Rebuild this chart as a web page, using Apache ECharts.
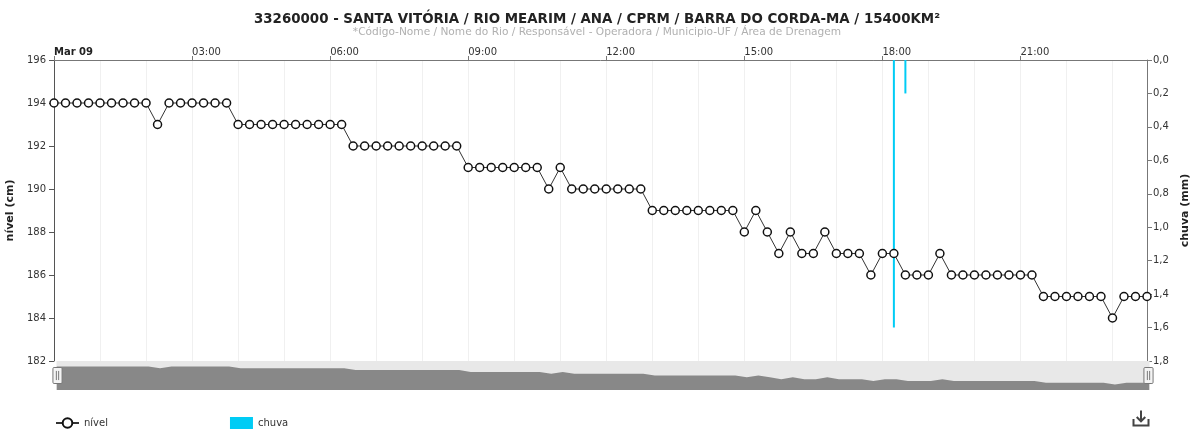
<!DOCTYPE html>
<html>
<head>
<meta charset="utf-8">
<title>33260000 - Santa Vitória</title>
<script src="https://cdn.jsdelivr.net/npm/echarts@6.0.0/dist/echarts.min.js"></script>
<style>
  html, body { margin: 0; padding: 0; background: #fff; }
  #chart { width: 1194px; height: 431px; }
</style>
</head>
<body>
<div id="chart"></div>
<script>
// leituras a cada 15 min, 09/mar 00:00 -> 23:45
var startLabel = 'Mar 09';
var times = [];
for (var h = 0; h < 24; h++) {
  for (var m = 0; m < 60; m += 15) {
    times.push((h < 10 ? '0' : '') + h + ':' + (m < 10 ? '0' : '') + m);
  }
}

// nível (cm)
var nivel = [
  194, 194, 194, 194, 194, 194, 194, 194, 194, 193, 194, 194, 194, 194, 194, 194,
  193, 193, 193, 193, 193, 193, 193, 193, 193, 193, 192, 192, 192, 192, 192, 192,
  192, 192, 192, 192, 191, 191, 191, 191, 191, 191, 191, 190, 191, 190, 190, 190,
  190, 190, 190, 190, 189, 189, 189, 189, 189, 189, 189, 189, 188, 189, 188, 187,
  188, 187, 187, 188, 187, 187, 187, 186, 187, 187, 186, 186, 186, 187, 186, 186,
  186, 186, 186, 186, 186, 186, 185, 185, 185, 185, 185, 185, 184, 185, 185, 185
];

// chuva (mm)
var chuvaHoras = ['18:15', '18:30'];
var chuvaValores = [1.6, 0.2];

var chuva = times.map(function (t) {
  var i = chuvaHoras.indexOf(t);
  return i >= 0 ? chuvaValores[i] : null;
});

var chart = echarts.init(document.getElementById('chart'));
var font = 'DejaVu Sans, Verdana, sans-serif';

var option = {
  animation: false,
  textStyle: { fontFamily: font },
  title: {
    text: '33260000 - SANTA VITÓRIA / RIO MEARIM / ANA / CPRM / BARRA DO CORDA-MA / 15400KM²',
    subtext: '*Código-Nome / Nome do Rio / Responsável - Operadora / Municipio-UF / Área de Drenagem',
    left: 'center',
    top: 8,
    itemGap: 1,
    textStyle: { fontSize: 13.4, fontWeight: 'bold', color: '#222', fontFamily: font },
    subtextStyle: { fontSize: 10.6, color: '#b0b0b0', fontFamily: font }
  },
  legend: {
    data: [{ name: 'nível' }, { name: 'chuva', icon: 'rect' }],
    left: 50,
    top: 412,
    itemGap: 122,
    itemWidth: 23,
    itemHeight: 12,
    textStyle: { fontSize: 10, color: '#333' }
  },
  toolbox: {
    show: true,
    right: 43,
    bottom: 3,
    padding: 0,
    itemSize: 15,
    showTitle: false,
    iconStyle: { color: 'none', borderColor: '#444', borderWidth: 2 },
    feature: {
      saveAsImage: {
        show: true,
        icon: 'path://M1,9 L1,15 L15,15 L15,9 M8,1 L8,11 M4,7 L8,11 L12,7'
      }
    }
  },
  grid: { left: 54, right: 47, top: 60, bottom: 70, outerBoundsMode: 'none', containLabel: false },
  xAxis: {
    type: 'category',
    position: 'top',
    data: times,
    boundaryGap: false,
    axisLine: { lineStyle: { color: '#777' } },
    axisTick: { interval: 11, length: 4, lineStyle: { color: '#777' } },
    axisLabel: {
      interval: 11,
      align: 'left',
      margin: 3,
      fontSize: 10,
      color: '#333',
      formatter: function (v, i) {
        return i === 0 ? '{b|' + startLabel + '}' : v;
      },
      rich: { b: { fontWeight: 'bold', fontSize: 10, color: '#222' } }
    },
    splitLine: { show: true, interval: 3, lineStyle: { color: '#f0f0f0' } }
  },
  yAxis: [
    {
      type: 'value',
      name: 'nível (cm)',
      nameLocation: 'middle',
      nameGap: 34,
      nameTextStyle: { fontSize: 11, fontWeight: 'bold', color: '#222' },
      min: 182,
      max: 196,
      interval: 2,
      axisLine: { show: true, lineStyle: { color: '#555' } },
      axisTick: { show: true, length: 5, lineStyle: { color: '#555' } },
      axisLabel: { fontSize: 10, color: '#333', margin: 8 },
      splitLine: { show: false }
    },
    {
      type: 'value',
      name: 'chuva (mm)',
      nameLocation: 'middle',
      nameGap: 33,
      nameTextStyle: { fontSize: 11, fontWeight: 'bold', color: '#222' },
      min: 0,
      max: 1.8,
      interval: 0.2,
      inverse: true,
      axisLine: { show: true, lineStyle: { color: '#777' } },
      axisTick: { show: true, length: 5, lineStyle: { color: '#777' } },
      axisLabel: {
        fontSize: 10,
        color: '#333',
        margin: 6,
        formatter: function (v) { return v.toFixed(1).replace('.', ','); }
      },
      splitLine: { show: false }
    }
  ],
  dataZoom: [
    {
      type: 'slider',
      xAxisIndex: 0,
      left: 54,
      right: 47,
      top: 361,
      height: 29,
      start: 0,
      end: 100,
      showDetail: false,
      brushSelect: false,
      moveHandleSize: 0,
      backgroundColor: '#e8e8e8',
      borderColor: 'transparent',
      fillerColor: 'rgba(0,0,0,0)',
      dataBackground: {
        lineStyle: { opacity: 0 },
        areaStyle: { color: '#888', opacity: 1 }
      },
      selectedDataBackground: {
        lineStyle: { opacity: 0 },
        areaStyle: { color: '#888', opacity: 1 }
      },
      handleIcon: 'path://M1,0 h6 a1,1 0 0 1 1,1 v12 a1,1 0 0 1 -1,1 h-6 a1,1 0 0 1 -1,-1 v-12 a1,1 0 0 1 1,-1 Z M3,3 L3,11 M5,3 L5,11',
      handleSize: 16,
      handleStyle: { color: '#f4f4f4', borderColor: '#777', borderWidth: 1 }
    }
  ],
  series: [
    {
      name: 'nível',
      type: 'line',
      yAxisIndex: 0,
      data: nivel,
      symbol: 'circle',
      symbolSize: 8,
      showAllSymbol: true,
      lineStyle: { color: '#333', width: 1 },
      itemStyle: { color: '#fff', borderColor: '#111', borderWidth: 1.5 },
      z: 3
    },
    {
      name: 'chuva',
      type: 'bar',
      yAxisIndex: 1,
      data: chuva,
      barWidth: 2,
      itemStyle: { color: '#00ccf5' },
      z: 1
    }
  ]
};

chart.setOption(option);
</script>
</body>
</html>
